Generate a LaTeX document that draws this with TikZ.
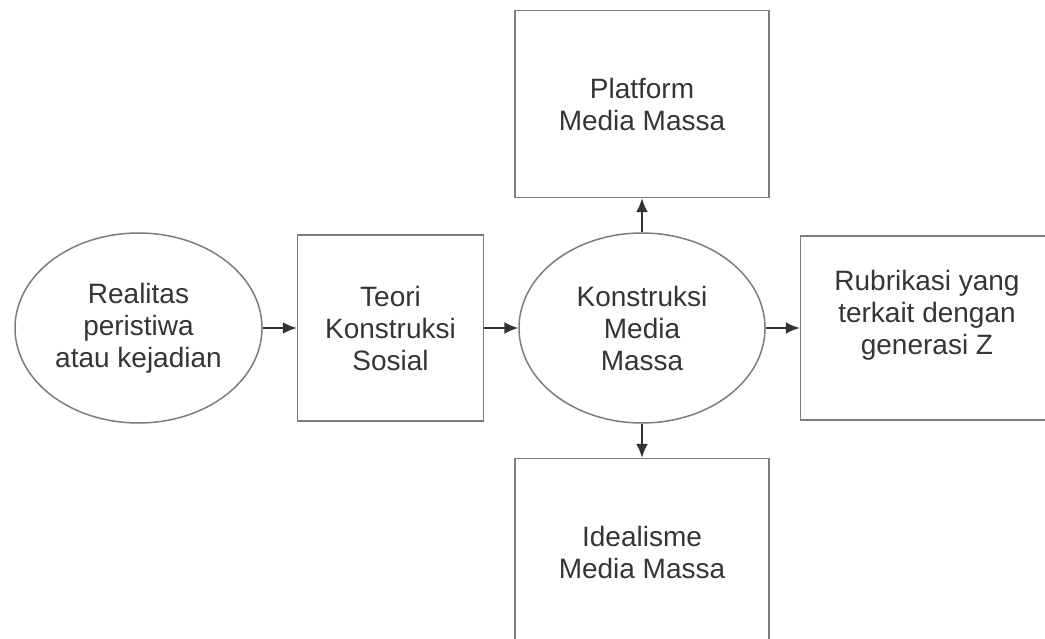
\documentclass[tikz,border=0pt]{standalone}
\usepackage{fontspec}
\setmainfont{Liberation Sans}
\usetikzlibrary{positioning,shapes.geometric,arrows.meta}
\definecolor{linegray}{HTML}{7C7C7C}
\definecolor{textgray}{HTML}{353535}

\begin{document}
\begin{tikzpicture}[x=1pt,y=-1pt,node distance=34pt,
	font=\fontsize{28}{32}\selectfont,
	every node/.style={align=center,text=textgray,inner sep=0pt},
	bubble/.style={ellipse,draw=linegray,line width=1.5pt,minimum width=247pt,minimum height=190pt},
	block/.style={rectangle,draw=linegray,line width=1.5pt,minimum width=186pt,minimum height=186pt},
	wideblock/.style={block,minimum width=254pt,minimum height=187pt},
	flow/.style={-{Latex[length=14pt,width=12pt]},line width=2pt,draw=black!80}]

  \useasboundingbox (0,0) rectangle (1045,639);

  \node [bubble] (realitas) at (138.5,328) {Realitas\\peristiwa\\atau kejadian};
  \node [right=of realitas, block] (teori) {Teori\\Konstruksi\\Sosial};
  \node [right=of teori, bubble, minimum width=246pt] (konstruksi) {Konstruksi\\Media\\Massa};
  \node [right=of konstruksi, wideblock, minimum width=253pt, minimum height=184pt, text depth=32pt] (rubrik) {Rubrikasi yang\\terkait dengan\\generasi Z};
  \node [above=of konstruksi, wideblock] (platform) {Platform\\Media Massa};
  \node [below=of konstruksi, wideblock] (ideal) {Idealisme\\Media Massa};

  \draw [flow] (realitas) -- (teori);
  \draw [flow] (teori) -- (konstruksi);
  \draw [flow] (konstruksi) -- (rubrik);
  \draw [flow] (konstruksi) -- (platform);
  \draw [flow] (konstruksi) -- (ideal);

\end{tikzpicture}
\end{document}
